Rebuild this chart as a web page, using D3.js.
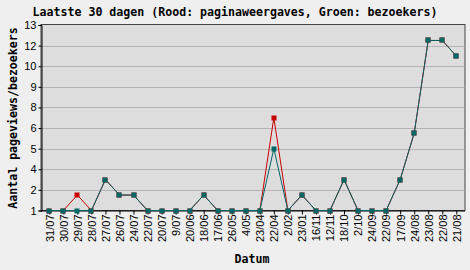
<!DOCTYPE html>
<html>
<head>
<meta charset="utf-8">
<script src="https://cdn.jsdelivr.net/npm/d3@7"></script>
<style>
  html, body { margin: 0; padding: 0; background: #EFEFEF; }
  svg { display: block; }
</style>
</head>
<body>
<svg id="chart" width="470" height="270"></svg>
<script>
const dates = ["31/07","30/07","29/07","28/07","27/07","26/07","24/07","22/07","20/07","9/07",
  "20/06","18/06","17/06","26/05","4/05","23/04","22/04","2/02","23/01","16/11",
  "12/11","18/10","2/10","24/09","22/09","17/09","24/08","23/08","22/08","21/08"];
const pageviews = [1,1,2,1,3,2,2,1,1,1,1,2,1,1,1,1,7,1,2,1,1,3,1,1,1,3,6,12,12,11];
const visitors  = [1,1,1,1,3,2,2,1,1,1,1,2,1,1,1,1,5,1,2,1,1,3,1,1,1,3,6,12,12,11];
const yMin = 1, yMax = 13, yIntervals = 9;
const yTicks = d3.range(yIntervals + 1).map(k => yMin + k * (yMax - yMin) / yIntervals);

const titleText = "Laatste 30 dagen (Rood: paginaweergaves, Groen: bezoekers)";
const yTitle = "Aantal pageviews/bezoekers";
const xTitle = "Datum";

const svg = d3.select("#chart");
const plot = { left: 41, right: 465, top: 24.5, bottom: 210.5 };

svg.append("rect").attr("width", 470).attr("height", 270).attr("fill", "#EFEFEF");

svg.append("rect")
  .attr("x", plot.left).attr("y", plot.top)
  .attr("width", plot.right - plot.left).attr("height", plot.bottom - plot.top)
  .attr("fill", "#DDDDDD").attr("stroke", "#444").attr("stroke-width", 1);

const x = d3.scalePoint().domain(dates).range([49.3, 456.3]);
const y = d3.scaleLinear().domain([yMin, yMax]).range([plot.bottom, plot.top + 0.5]);

// grid
svg.append("g").selectAll("line")
  .data(yTicks.slice(1, -1))
  .join("line")
  .attr("x1", plot.left + 1).attr("x2", plot.right - 0.5)
  .attr("y1", d => Math.round(y(d)) + 0.5).attr("y2", d => Math.round(y(d)) + 0.5)
  .attr("stroke", "#B4B4B4").attr("stroke-width", 1);

// y axis
const yAxis = d3.axisLeft(y).tickValues(yTicks).tickFormat(d => Math.round(d)).tickSize(3).tickPadding(2);
const gy = svg.append("g").attr("transform", `translate(${plot.left + 0.5},0)`).call(yAxis);
gy.select(".domain").attr("stroke", "#000");
gy.selectAll(".tick line").attr("stroke", "#000");
gy.selectAll("text").attr("font-family", "Liberation Sans, Arial, sans-serif").attr("font-size", 11).attr("fill", "#000");

// x axis
const xAxis = d3.axisBottom(x).tickSize(4).tickSizeOuter(0);
const gx = svg.append("g").attr("transform", `translate(0,${plot.bottom})`).call(xAxis);
gx.select(".domain").attr("stroke", "#000").attr("d", `M${plot.left},0.5H${plot.right}`);
gx.selectAll(".tick line").attr("stroke", "#000");
gx.selectAll("text")
  .attr("font-family", "Liberation Sans, Arial, sans-serif").attr("font-size", 11).attr("fill", "#000")
  .attr("transform", "rotate(-90)")
  .attr("text-anchor", "end")
  .attr("x", -4).attr("y", 0).attr("dy", "0.35em");

// lines
const line = d3.line().x((d, i) => x(dates[i])).y(d => y(d));
function series(vals, color) {
  svg.append("path").datum(vals).attr("d", line)
    .attr("fill", "none").attr("stroke", color).attr("stroke-width", 1);
  svg.append("g").selectAll("rect").data(vals).join("rect")
    .attr("x", (d, i) => Math.round(x(dates[i])) - 2.5)
    .attr("y", d => Math.round(y(d)) - 2.5)
    .attr("width", 5).attr("height", 5)
    .attr("fill", color);
}
series(pageviews, "#CC0000");
series(visitors, "#006666");

// titles
svg.append("text").attr("x", 235).attr("y", 16).attr("text-anchor", "middle")
  .attr("font-family", "DejaVu Sans Mono, monospace").attr("font-weight", "bold").attr("font-size", 11.6)
  .attr("fill", "#000").text(titleText);

svg.append("text").attr("transform", "translate(17,118) rotate(-90)").attr("text-anchor", "middle")
  .attr("font-family", "DejaVu Sans Mono, monospace").attr("font-weight", "bold").attr("font-size", 11.6)
  .attr("fill", "#000").text(yTitle);

svg.append("text").attr("x", 252).attr("y", 263).attr("text-anchor", "middle")
  .attr("font-family", "DejaVu Sans Mono, monospace").attr("font-weight", "bold").attr("font-size", 11.6)
  .attr("fill", "#000").text(xTitle);
</script>
</body>
</html>
